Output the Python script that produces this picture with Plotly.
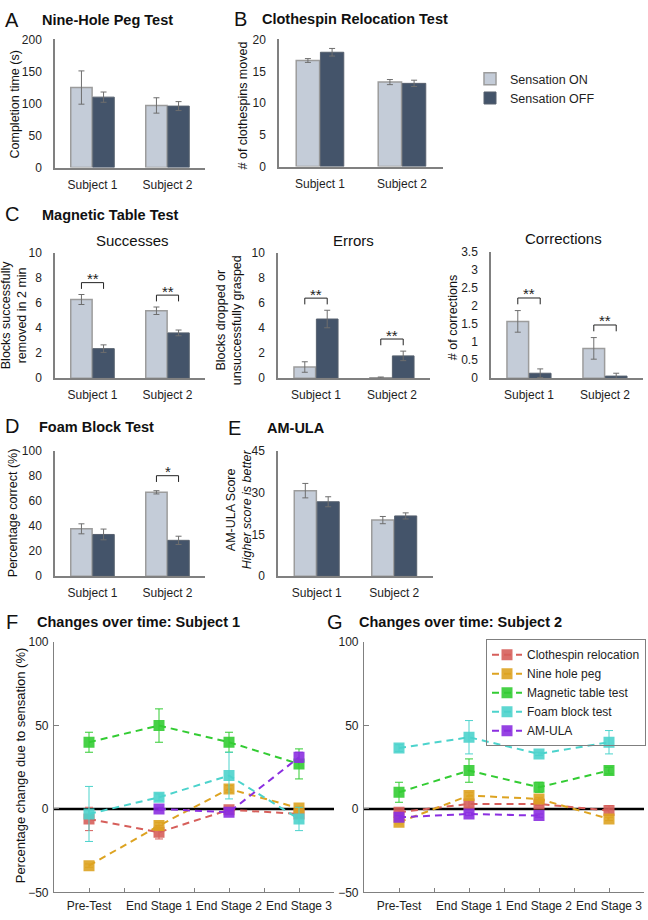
import plotly.graph_objects as go

W, H = 648, 920
FONT = "Arial, Liberation Sans, sans-serif"

# ---------------- data ----------------
subjects = ["Subject 1", "Subject 2"]

# A: Nine-Hole Peg Test (completion time, s)
peg_on = [125, 97]
peg_on_err = [26, 12]
peg_off = [110, 96]
peg_off_err = [8, 7]

# B: Clothespin Relocation Test
clo_on = [16.7, 13.3]
clo_on_err = [0.3, 0.4]
clo_off = [18.0, 13.1]
clo_off_err = [0.6, 0.5]

# C: Magnetic Table Test
suc_on = [6.3, 5.4]
suc_on_err = [0.4, 0.3]
suc_off = [2.37, 3.63]
suc_off_err = [0.3, 0.23]

errs_on = [0.9, 0.05]
errs_on_err = [0.42, 0.05]
errs_off = [4.74, 1.79]
errs_off_err = [0.7, 0.38]

cor_on = [1.58, 0.83]
cor_on_err = [0.3, 0.3]
cor_off = [0.14, 0.06]
cor_off_err = [0.12, 0.08]

# D: Foam Block Test
foam_on = [37.9, 67.1]
foam_on_err = [4.0, 1.3]
foam_off = [33.4, 28.7]
foam_off_err = [4.3, 3.3]

# E: AM-ULA
amula_on = [30.8, 20.2]
amula_on_err = [2.6, 1.3]
amula_off = [26.8, 21.7]
amula_off_err = [1.8, 1.1]

# F / G: change over time
stages = ["Pre-Test", "End Stage 1", "End Stage 2", "End Stage 3"]
series_names = ["Clothespin relocation", "Nine hole peg", "Magnetic table test",
                "Foam block test", "AM-ULA"]

s1_clothespin = [-6, -14, -0.5, -3]
s1_clothespin_err = [7, 4, 1, 2]
s1_ninehole = [-34, -10, 12, 0.5]
s1_ninehole_err = [1, 2, 2, 1]
s1_magnetic = [40, 50, 40, 27]
s1_magnetic_err = [6, 10, 6, 9]
s1_foam = [-3, 7, 20, -6]
s1_foam_err = [16.5, 2, 14, 7]
s1_amula = [None, 0, -2, 31]
s1_amula_err = [0, 1, 1, 3]

s2_clothespin = [-2, 3, 3, -1]
s2_clothespin_err = [1, 2, 1, 3]
s2_ninehole = [-8, 8, 6, -6]
s2_ninehole_err = [1, 2, 1, 1]
s2_magnetic = [10, 23, 13, 23]
s2_magnetic_err = [6, 7, 3, 2]
s2_foam = [36.5, 43, 33, 40]
s2_foam_err = [2, 10, 1, 7]
s2_amula = [-5, -3, -4, None]
s2_amula_err = [1, 1, 1, 0]

# ---------------- styles ----------------
ON_FILL = "#C4CCD8"
ON_EDGE = "#9C9C9C"
OFF_FILL = "#44546A"
OFF_EDGE = "#56606E"
ERR_COL = "#6E6E6E"
AXIS_COL = "#808080"
TXT = "#1E1E1E"
series_colors = ["#D65F5B", "#DDA321", "#33CC33", "#4CD3CC", "#8B2FE0"]

BW = 0.285
GAP = 0.01


def px(x):
    return x / W


def py(y):
    return 1 - y / H


def keys(i):
    s = "" if i == 1 else str(i)
    return "xaxis" + s, "yaxis" + s, "x" + s, "y" + s


fig = go.Figure()
layout = {}
annotations = []
shapes = []

bar_panels = [
    dict(box=(55, 205, 33, 163), on=peg_on, on_err=peg_on_err, off=peg_off, off_err=peg_off_err,
         ymax=200, dtick=50, sig=[], pad=0.1),
    dict(box=(279, 443, 33, 162), on=clo_on, on_err=clo_on_err, off=clo_off, off_err=clo_off_err,
         ymax=20, dtick=5, sig=[], pad=0.1),
    dict(box=(55, 205, 250, 377), on=suc_on, on_err=suc_on_err, off=suc_off, off_err=suc_off_err,
         ymax=10, dtick=2, sig=[(0, "**"), (1, "**")], pad=0.095),
    dict(box=(278, 430, 250, 377), on=errs_on, on_err=errs_on_err, off=errs_off, off_err=errs_off_err,
         ymax=10, dtick=2, sig=[(0, "**"), (1, "**")], pad=0.097),
    dict(box=(491, 643, 249, 377), on=cor_on, on_err=cor_on_err, off=cor_off, off_err=cor_off_err,
         ymax=3.5, dtick=0.5, sig=[(0, "**"), (1, "**")], pad=0.1),
    dict(box=(55, 205, 451, 578), on=foam_on, on_err=foam_on_err, off=foam_off, off_err=foam_off_err,
         ymax=100, dtick=20, sig=[(1, "*")], pad=0.12),
    dict(box=(278, 433, 451, 578), on=amula_on, on_err=amula_on_err, off=amula_off, off_err=amula_off_err,
         ymax=45, dtick=15, sig=[], pad=0.1),
]

xs = list(range(len(subjects)))
for i, p in enumerate(bar_panels, start=1):
    xk, yk, xr, yr = keys(i)
    x0, x1, y0, y1 = p["box"]
    first = (i == 1)
    fig.add_trace(go.Bar(
        x=xs, y=p["on"], width=BW, offset=-BW - GAP / 2,
        marker=dict(color=ON_FILL, line=dict(color=ON_EDGE, width=1.5)),
        error_y=dict(type="data", array=p["on_err"], color=ERR_COL, thickness=1, width=3),
        name="Sensation ON", showlegend=first, legend="legend",
        xaxis=xr, yaxis=yr, hoverinfo="skip"))
    fig.add_trace(go.Bar(
        x=xs, y=p["off"], width=BW, offset=GAP / 2,
        marker=dict(color=OFF_FILL, line=dict(color=OFF_EDGE, width=1)),
        error_y=dict(type="data", array=p["off_err"], color=ERR_COL, thickness=1, width=3),
        name="Sensation OFF", showlegend=first, legend="legend",
        xaxis=xr, yaxis=yr, hoverinfo="skip"))
    layout[xk] = dict(domain=[px(x0), px(x1)], anchor=yr, range=[-0.5, 1.5],
                      tickmode="array", tickvals=xs, ticktext=subjects,
                      showline=True, linecolor=AXIS_COL, linewidth=1.5,
                      ticks="", showgrid=False, zeroline=False, ticklabelstandoff=5,
                      tickfont=dict(size=12, color=TXT, family=FONT), fixedrange=True)
    layout[yk] = dict(domain=[py(y1), py(y0)], anchor=xr, range=[0, p["ymax"] * 1.0005],
                      tickmode="linear", tick0=0, dtick=p["dtick"],
                      showline=True, linecolor=AXIS_COL, linewidth=1.5,
                      ticks="", showgrid=False, zeroline=False, ticklabelstandoff=9,
                      tickfont=dict(size=12, color=TXT, family=FONT), fixedrange=True)
    # significance brackets
    cen_on = -BW / 2 - GAP / 2
    cen_off = BW / 2 + GAP / 2
    for (si, stars) in p["sig"]:
        top = max(p["on"][si] + p["on_err"][si], p["off"][si] + p["off_err"][si])
        yb = top + p["pad"] * p["ymax"]
        yd = yb - 0.05 * p["ymax"]
        shapes.append(dict(type="path", xref=xr, yref=yr,
                           path=f"M{si + cen_on},{yd} L{si + cen_on},{yb} L{si + cen_off},{yb} L{si + cen_off},{yd}",
                           line=dict(color="#222222", width=1)))
        annotations.append(dict(xref=xr, yref=yr, x=si, y=yb, text=stars, showarrow=False,
                                xanchor="center", yanchor="middle", yshift=4,
                                font=dict(size=15, color="#222222", family=FONT)))

# ---------------- line panels ----------------
stage_x = list(range(1, len(stages) + 1))
tick_pos = [0.5 + 0.5 * k for k in range(2 * len(stages) + 1)]
tick_txt = [stages[int(t) - 1] if float(t).is_integer() else "" for t in tick_pos]

line_panels = [
    dict(box=(54, 334, 645, 899),
         series=[(s1_clothespin, s1_clothespin_err), (s1_ninehole, s1_ninehole_err),
                 (s1_magnetic, s1_magnetic_err), (s1_foam, s1_foam_err),
                 (s1_amula, s1_amula_err)], legend=False),
    dict(box=(364, 644, 645, 899),
         series=[(s2_clothespin, s2_clothespin_err), (s2_ninehole, s2_ninehole_err),
                 (s2_magnetic, s2_magnetic_err), (s2_foam, s2_foam_err),
                 (s2_amula, s2_amula_err)], legend=True),
]

for j, p in enumerate(line_panels):
    i = len(bar_panels) + 1 + j
    xk, yk, xr, yr = keys(i)
    x0, x1, y0, y1 = p["box"]
    shapes.append(dict(type="line", xref=xr + " domain", yref=yr, x0=0, x1=1, y0=0, y1=0,
                       line=dict(color="black", width=2.5), layer="below"))
    for (vals, err), name, col in zip(p["series"], series_names, series_colors):
        fig.add_trace(go.Scatter(
            x=stage_x, y=vals, mode="lines+markers", name=name,
            line=dict(color=col, width=2, dash="7px,5px"),
            marker=dict(symbol="square", size=11, color=col, opacity=0.9,
                        line=dict(color=col, width=0)),
            error_y=dict(type="data", array=err, color=col, thickness=1, width=4),
            showlegend=p["legend"], legend="legend2", connectgaps=False,
            xaxis=xr, yaxis=yr, hoverinfo="skip"))
    layout[xk] = dict(domain=[px(x0), px(x1)], anchor=yr, range=[0.5, 4.5],
                      tickmode="array", tickvals=tick_pos, ticktext=tick_txt,
                      ticks="inside", ticklen=4, tickcolor=AXIS_COL,
                      showline=True, linecolor=AXIS_COL, linewidth=1.2,
                      showgrid=False, zeroline=False, ticklabelstandoff=2,
                      tickfont=dict(size=12, color=TXT, family=FONT), fixedrange=True)
    layout[yk] = dict(domain=[py(y1), py(y0)], anchor=xr, range=[-50, 100],
                      tickmode="array", tickvals=[-50, 0, 50, 100],
                      ticks="inside", ticklen=5, tickcolor=AXIS_COL,
                      showline=True, linecolor=AXIS_COL, linewidth=1.2,
                      showgrid=False, zeroline=False, ticklabelstandoff=2,
                      tickfont=dict(size=12, color=TXT, family=FONT), fixedrange=True)

# ---------------- texts ----------------
def txt(x, y, s, size=12, anchor="left", angle=0, bold=False):
    if bold:
        s = "<b>" + s + "</b>"
    annotations.append(dict(xref="paper", yref="paper", x=px(x), y=py(y), text=s,
                            showarrow=False, xanchor=anchor, yanchor="middle",
                            textangle=angle, font=dict(size=size, color="#111111", family=FONT)))


# panel letters
for (lx, ly, L) in [(3, 13, "A"), (232, 12, "B"), (3, 210, "C"), (3, 425, "D"),
                    (226, 427, "E"), (4, 625, "F"), (325, 625, "G")]:
    txt(lx, ly, L, size=20)

# panel titles
for (tx, ty, T) in [(40, 13, "Nine-Hole Peg Test"), (260, 12, "Clothespin Relocation Test"),
                    (40, 211, "Magnetic Table Test"), (37, 426, "Foam Block Test"),
                    (265, 428, "AM-ULA"), (35, 625, "Changes over time: Subject 1"),
                    (357, 625, "Changes over time: Subject 2")]:
    txt(tx, ty, T, size=14.5, bold=True)

# sub-titles of C
txt(132, 237, "Successes", size=15, anchor="center")
txt(353, 237, "Errors", size=15, anchor="center")
txt(563, 235, "Corrections", size=15, anchor="center")

# y axis titles
txt(15, 99, "Completion time (s)", size=12.5, anchor="center", angle=-90)
txt(243, 100, "# of clothespins moved", size=12.5, anchor="center", angle=-90)
txt(14, 313, "Blocks successfully<br>removed in 2 min", size=12.5, anchor="center", angle=-90)
txt(229, 318, "Blocks dropped or<br>unsuccessfully grasped", size=12.5, anchor="center", angle=-90)
txt(453, 316, "# of corrections", size=12.5, anchor="center", angle=-90)
txt(13, 514, "Percentage correct (%)", size=12.5, anchor="center", angle=-90)
txt(239, 510, "AM-ULA Score<br><i>Higher score is better</i>", size=12.5, anchor="center", angle=-90)
txt(20, 770, "Percentage change due to sensation (%)", size=13, anchor="center", angle=-90)

layout.update(dict(
    width=W, height=H, margin=dict(l=0, r=0, t=0, b=0),
    paper_bgcolor="white", plot_bgcolor="white",
    font=dict(family=FONT, size=12, color=TXT),
    barmode="overlay",
    showlegend=True,
    legend=dict(x=px(470), y=py(58), xanchor="left", yanchor="top",
                font=dict(size=12.5, color=TXT, family=FONT),
                bgcolor="rgba(0,0,0,0)", borderwidth=0, traceorder="normal"),
    legend2=dict(x=px(646), y=py(642), xanchor="right", yanchor="top",
                 font=dict(size=12, color=TXT, family=FONT),
                 bgcolor="rgba(255,255,255,0)", bordercolor="#7F7F7F", borderwidth=1,
                 itemwidth=30, tracegroupgap=0, traceorder="normal"),
    annotations=annotations,
    shapes=shapes,
))
fig.update_layout(layout)
fig.write_html("out.html", config={"displayModeBar": False},
               post_script="document.body.style.margin='0';document.body.style.overflow='hidden';")
